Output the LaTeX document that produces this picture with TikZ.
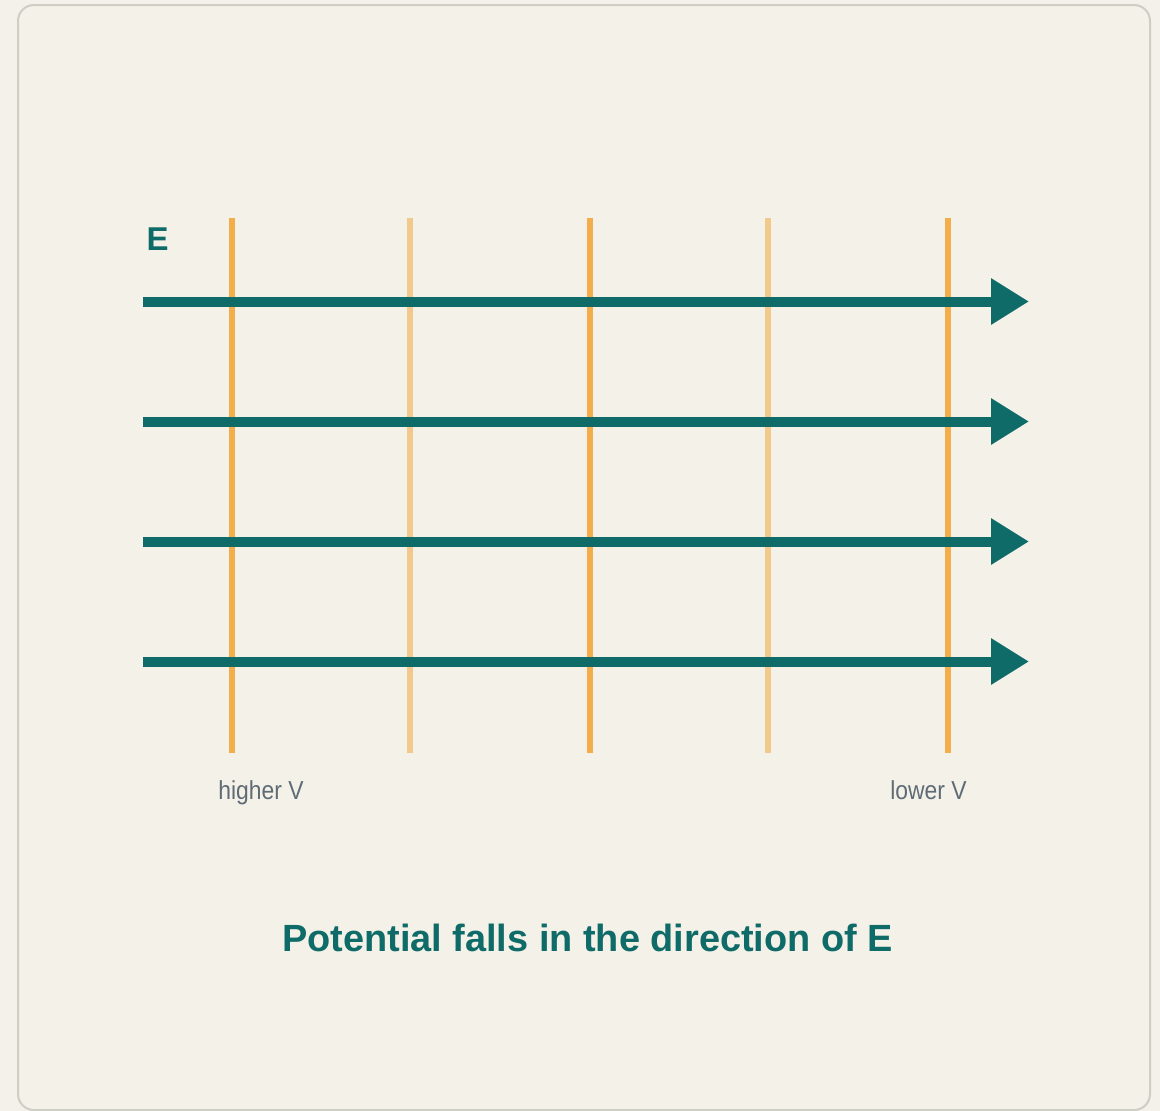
\documentclass[tikz,border=0pt]{standalone}
\usepackage{fontspec}
\setmainfont{Liberation Sans}
\newfontfamily\labfont[FakeStretch=0.88]{Liberation Sans}
\usetikzlibrary{arrows.meta}
\definecolor{bgout}{HTML}{F3F1EA}
\definecolor{bgin}{HTML}{F4F1E9}
\definecolor{frameC}{HTML}{CDCFC5}
\definecolor{tealC}{HTML}{0E6B68}
\definecolor{orangeC}{HTML}{F4AD4B}
\definecolor{lightC}{HTML}{F2C98C}
\definecolor{grayT}{HTML}{5F6B75}
\tikzset{
  field/.style={draw=tealC, line width=10pt, -{Triangle[length=38pt,width=44pt]}},
  eqstrong/.style={draw=orangeC, line width=6pt},
  eqlight/.style={draw=lightC, line width=6pt},
  sidelabel/.style={font=\labfont\fontsize{26}{30}\selectfont, text=grayT, inner sep=0pt, anchor=base},
  titlelabel/.style={font=\bfseries\fontsize{37.9}{44}\selectfont, text=tealC, inner sep=0pt, anchor=base},
  elabel/.style={font=\bfseries\fontsize{33}{38}\selectfont, text=tealC, inner sep=0pt, anchor=base west}
}
\begin{document}
\begin{tikzpicture}[x=1pt,y=-1pt]
\useasboundingbox (0,0) rectangle (1160,1111);
\fill[bgout] (0,0) rectangle (1160,1111);
\draw[frameC, fill=bgin, line width=2pt, rounded corners=16pt] (18,5) rectangle (1150,1110);
% equipotential lines
\foreach \i/\x/\s in {1/232/eqstrong,2/410/eqlight,3/590/eqstrong,4/768/eqlight,5/948/eqstrong}{
  \coordinate (vt\i) at (\x,218);
  \coordinate (vb\i) at (\x,753);
  \draw[\s] (vt\i) -- (vb\i);
}
% field lines
\foreach \i/\y in {1/301.5,2/421.5,3/541.5,4/661.5}{
  \coordinate (fs\i) at (143,\y);
  \coordinate (fe\i) at (1029,\y);
  \draw[field] (fs\i) -- (fe\i);
}
\node[elabel] (E) at (146.5,250.7) {E};
\node[sidelabel] (hi) at (261,799.5) {higher V};
\node[sidelabel] (lo) at (928.5,799.5) {lower V};
\node[titlelabel] (title) at (587.5,951.7) {Potential falls in the direction of E};
\end{tikzpicture}
\end{document}
